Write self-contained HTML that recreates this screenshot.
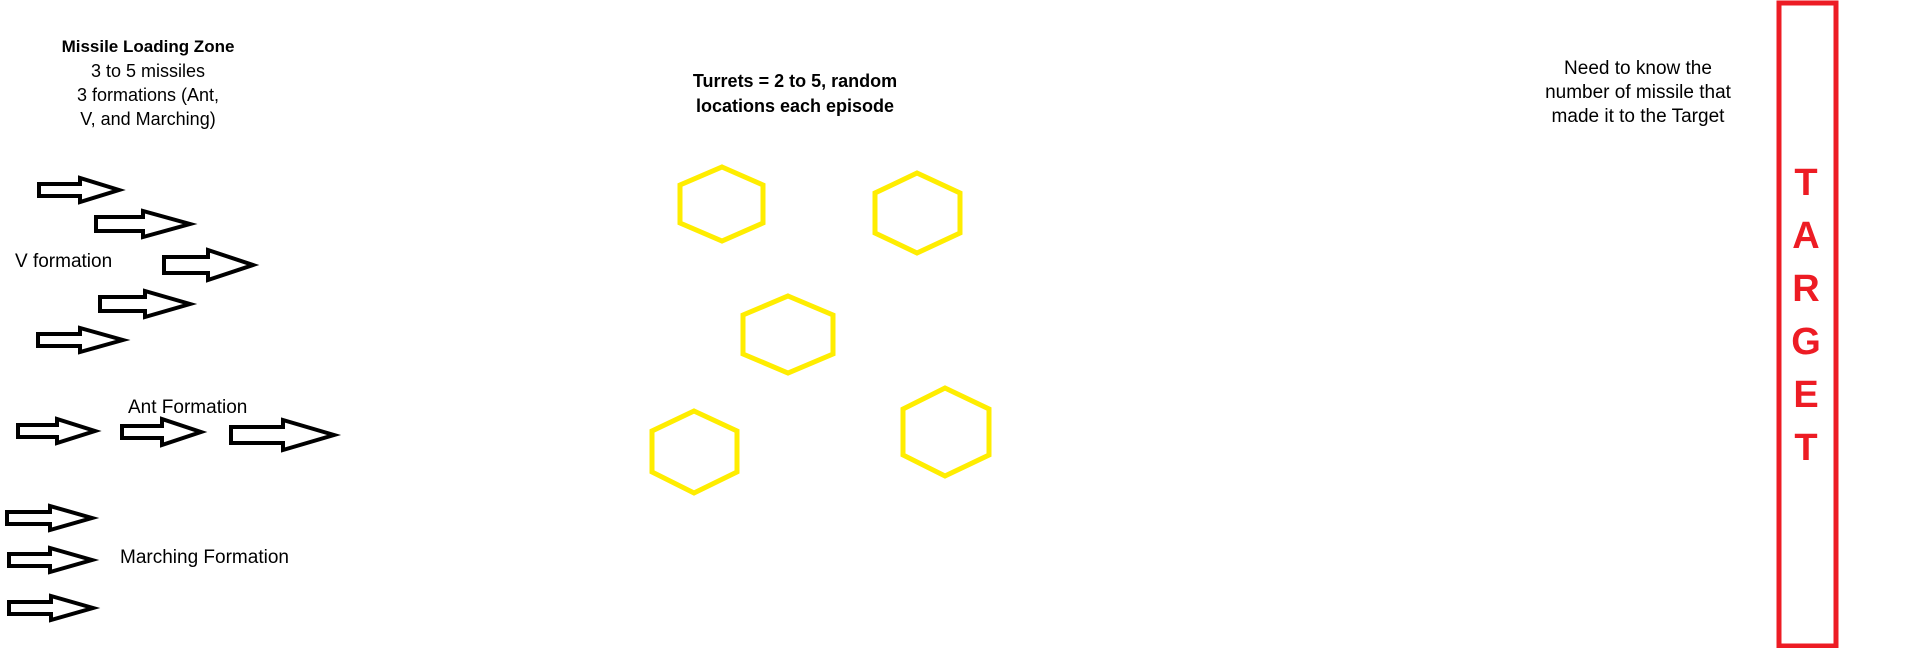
<!DOCTYPE html>
<html><head><meta charset="utf-8"><style>
body{margin:0;width:1932px;height:648px;background:#fff;position:relative;overflow:hidden;font-family:"Liberation Sans",sans-serif;}
.t{position:absolute;white-space:nowrap;font-size:19px;color:#000;line-height:24px;}
.c{transform:translateX(-50%);text-align:center;}
</style></head><body>
<svg width="1932" height="648" style="position:absolute;left:0;top:0">
<g id="arrows" fill="#fff" stroke="#000" stroke-width="4" stroke-linejoin="miter"></g>
<g id="hexes" fill="none" stroke="#ffed00" stroke-width="5"></g>
<rect x="1779" y="3" width="57" height="643" fill="none" stroke="#ed1c24" stroke-width="5"/>
</svg>
<div class="t c" style="left:148px;top:35px;font-weight:bold;font-size:17px">Missile Loading Zone</div>
<div class="t c" style="left:148px;top:59px;font-size:18px">3 to 5 missiles<br>3 formations (Ant,<br>V, and Marching)</div>
<div class="t" style="left:15px;top:250px">V formation</div>
<div class="t" style="left:128px;top:396px">Ant Formation</div>
<div class="t" style="left:120px;top:546px">Marching Formation</div>
<div class="t c" style="left:795px;top:69px;font-weight:bold;font-size:18px;line-height:25px">Turrets = 2 to 5, random<br>locations each episode</div>
<div class="t c" style="left:1638px;top:57px">Need to know the<br>number of missile that<br>made it to the Target</div>
<div class="t c" style="left:1806px;top:157px;font-weight:bold;font-size:38px;line-height:53px;color:#ed1c24">T<br>A<br>R<br>G<br>E<br>T</div>
<script>
// arrows: [x0, xHead, tip, cy, shaftHalf, headHalf]
const arrowData=[[39,80,119,190,6,12],[96,143,190,224,7,13],[164,208,253,265,8,15],[100,145,190,304,7,13],[38,80,123,340,6,12],
[18,57,95,431,6,12],[122,162,201,432,6,13],[231,283,334,435,8,15],
[7,50,92,518,6,12],[9,50,92,560,6,12],[9,51,93,608,6,12]];
const arrowNames=['v-arrow-1','v-arrow-2','v-arrow-3','v-arrow-4','v-arrow-5','ant-arrow-1','ant-arrow-2','ant-arrow-3','marching-arrow-1','marching-arrow-2','marching-arrow-3'];
// hexagons: [left, right, centerX, top, side1, side2, bottom]
const hexData=[[680,763,722,167,185,223,241],[875,960,917,173,193,233,253],[743,833,788,296,315,354,373],[652,737,694,411,431,472,493],[903,989,945,388,409,455,476]];
const NS='http://www.w3.org/2000/svg';
const ag=document.getElementById('arrows');
arrowData.forEach((a,i)=>{const [x0,xh,tp,cy,s,h]=a;const p=document.createElementNS(NS,'polygon');
p.setAttribute('points',`${x0},${cy-s} ${xh},${cy-s} ${xh},${cy-h} ${tp},${cy} ${xh},${cy+h} ${xh},${cy+s} ${x0},${cy+s}`);


ag.appendChild(p);});
const hg=document.getElementById('hexes');
hexData.forEach((d,i)=>{const [l,r,cx,t,s1,s2,b]=d;const p=document.createElementNS(NS,'polygon');
p.setAttribute('points',`${cx},${t} ${r},${s1} ${r},${s2} ${cx},${b} ${l},${s2} ${l},${s1}`);


hg.appendChild(p);});
</script>
</body></html>
